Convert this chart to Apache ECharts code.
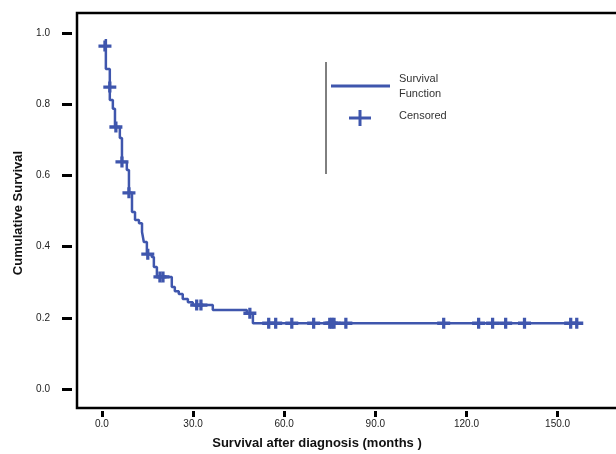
<!DOCTYPE html>
<html>
<head>
<meta charset="utf-8">
<script src="https://cdn.jsdelivr.net/npm/echarts@6/dist/echarts.min.js"></script>
<style>
  html, body { margin: 0; padding: 0; background: #fff; }
  #chart { width: 616px; height: 454px; }
</style>
</head>
<body>
<div id="chart"></div>
<script>
// survival curve: time of each step (months) and survival after it
const times = [1.3, 1.3, 2.6, 3.6, 4.3, 5.9, 6.6, 8.2, 8.9, 9.9, 10.9, 12.2, 13.2, 13.8, 14.8, 16.4, 17.1, 18.1, 23.0, 24.0, 25.3, 26.6, 28.3, 29.9, 36.5, 47.7, 49.7, 157.9];
const survival = [0.983, 0.899, 0.812, 0.787, 0.736, 0.705, 0.638, 0.615, 0.551, 0.497, 0.475, 0.466, 0.441, 0.413, 0.379, 0.371, 0.343, 0.315, 0.287, 0.275, 0.267, 0.253, 0.244, 0.236, 0.222, 0.213, 0.185, 0.185];

// censored cases
const censorTimes = [1.0, 2.6, 4.6, 6.6, 8.9, 15.1, 19.1, 20.1, 31.2, 32.6, 48.7, 54.9, 57.2, 62.5, 69.7, 75.0, 75.7, 76.4, 80.3, 112.5, 124.0, 128.6, 132.9, 139.1, 154.3, 156.3];
const censorSurv = [0.963, 0.848, 0.736, 0.638, 0.551, 0.379, 0.315, 0.315, 0.236, 0.236, 0.213, 0.185, 0.185, 0.185, 0.185, 0.185, 0.185, 0.185, 0.185, 0.185, 0.185, 0.185, 0.185, 0.185, 0.185, 0.185];

const xTicks = [0, 30, 60, 90, 120, 150];
const yTicks = [0, 0.2, 0.4, 0.6, 0.8, 1.0];

const blue = "#3f56ad";
const font = "Liberation Sans, Arial, sans-serif";
const plus = "path://M0,3.5H12V6.5H0Z M4.5,0H7.5V10H4.5Z";

const chart = echarts.init(document.getElementById("chart"));
chart.setOption({
  animation: false,
  grid: {
    left: 77, top: 13, width: 559, height: 395,
    outerBoundsMode: "none",
    show: true, borderColor: "#000", borderWidth: 2.5, backgroundColor: "#fff"
  },
  xAxis: {
    type: "value", min: -8.2, max: 175.8, offset: 3,
    splitLine: { show: false },
    axisLine: { show: false, onZero: false },
    axisTick: { length: 6, customValues: xTicks, lineStyle: { color: "#000", width: 3 } },
    axisLabel: {
      customValues: xTicks, margin: 8, fontSize: 10, color: "#222", fontFamily: font,
      formatter: (v) => v.toFixed(1)
    }
  },
  yAxis: {
    type: "value", min: -0.053, max: 1.056, offset: 5,
    splitLine: { show: false },
    axisLine: { show: false, onZero: false },
    axisTick: { length: 10, customValues: yTicks, lineStyle: { color: "#000", width: 3 } },
    axisLabel: {
      customValues: yTicks, margin: 22, fontSize: 10, color: "#222", fontFamily: font,
      formatter: (v) => v.toFixed(1)
    }
  },
  series: [
    {
      name: "Survival Function",
      type: "line",
      step: "end",
      showSymbol: false,
      lineStyle: { color: blue, width: 2.5 },
      data: times.map((t, i) => [t, survival[i]])
    },
    {
      name: "Censored",
      type: "scatter",
      symbol: plus,
      symbolSize: [13, 11],
      itemStyle: { color: blue, opacity: 1 },
      data: censorTimes.map((t, i) => [t, censorSurv[i]])
    }
  ],
  graphic: [
    // legend
    { type: "line", shape: { x1: 326, y1: 62, x2: 326, y2: 174 }, style: { stroke: "#000", lineWidth: 1 } },
    { type: "line", shape: { x1: 331, y1: 86, x2: 390, y2: 86 }, style: { stroke: blue, lineWidth: 3 } },
    { type: "rect", shape: { x: 349, y: 116.5, width: 22, height: 3 }, style: { fill: blue } },
    { type: "rect", shape: { x: 358.5, y: 110, width: 3, height: 16 }, style: { fill: blue } },
    { type: "text", left: 399, top: 71, style: { text: "Survival\nFunction", font: "11px " + font, fill: "#333", lineHeight: 15 } },
    { type: "text", left: 399, top: 110, style: { text: "Censored", font: "11px " + font, fill: "#333" } },
    // axis titles
    {
      type: "text", x: 317, y: 443,
      style: { text: "Survival after diagnosis (months )", font: "bold 13px " + font, fill: "#111", align: "center", verticalAlign: "middle" }
    },
    {
      type: "text", x: 18, y: 213, rotation: Math.PI / 2,
      style: { text: "Cumulative Survival", font: "bold 13px " + font, fill: "#111", align: "center", verticalAlign: "middle" }
    }
  ]
});
</script>
</body>
</html>
